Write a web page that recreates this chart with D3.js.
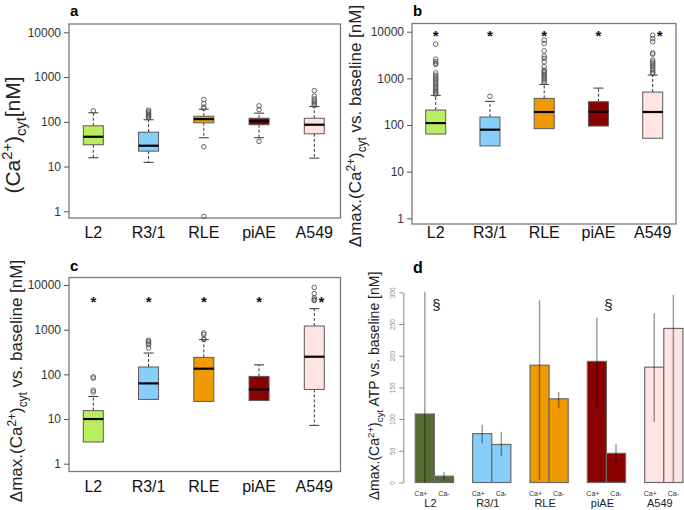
<!DOCTYPE html>
<html><head><meta charset="utf-8">
<script src="https://cdn.jsdelivr.net/npm/d3@7"></script>
<style>
body{margin:0;background:#fff;}
svg{display:block;font-family:"Liberation Sans",Arial,sans-serif;}
</style></head>
<body><svg id="chart" width="684" height="510"></svg>
<script>
// ---------- data ----------
const categories = ["L2","R3/1","RLE","piAE","A549"];
const logTicks = [1,10,100,1000,10000];
const boxColors = ["#BBEE5E","#87CEFA","#EE9A00","#8B0000","#FFE4E1"];
const barColors = ["#556B2F","#87CEFA","#EE9A00","#8B0000","#FFE4E1"];

// panel a: (Ca2+)cyt [nM]
const aQ1 = [30.7, 22.1, 95, 86, 54];
const aMedian = [46.3, 29.2, 115, 103, 86];
const aQ3 = [81.5, 58.6, 133, 120, 120];
const aLow = [15.7, 12.4, 44, 44, 15.4];
const aHigh = [159, 111, 191, 156, 219];
const aOutliers = [[176],[123,130,138,147,157,168,182],[0.77,27.7,200,212,256,314],[36.4,187,227],[231,251,275,298,325,372,499]];

// panel b: delta max vs baseline
const bQ1 = [64, 35.6, 83.4, 95, 52];
const bMedian = [110, 79.4, 190, 193, 190];
const bQ3 = [209, 148, 372, 315, 508];
const bLow = [64, 35.6, 83.4, 95, 52];
const bHigh = [432, 321, 741, 618, 1175];
const bOutliers = [
  [460,490,515,560,610,660,720,780,845,920,1000,1080,1170,1310,1990,2100,2280,2580,5400],
  [411],
  [820,880,960,1030,1110,1200,1320,1400,1500,1780,2270,2670,2980,3870,5600,6580],
  [],
  [1280,1350,1500,1600,1780,1900,2100,2250,2460,3300,3500,6100,7100,8400]];
const bStarValue = 9400;

// panel c
const cQ1 = [3.06, 27.5, 24.8, 26, 46];
const cMedian = [10, 62.8, 134, 46, 248];
const cQ3 = [15.4, 146, 240, 90, 1210];
const cLow = [3.06, 27.5, 24.8, 26, 7.2];
const cHigh = [32, 300, 597, 163, 2950];
const cOutliers = [[40,44,82,88],[390,460,500,540,580],[600,620,780,843],[],[4500,4700,5140,6400,8850]];
const cStarValue = 4800;

// panel d: ATP response, Ca+ / Ca-
const conditions = ["Ca+","Ca-"];
const dCaPlus = [108, 77, 185, 191, 182];
const dCaPlusLow = [0, 62, 4, 119, 96];
const dCaPlusHigh = [301, 91, 288, 260, 267];
const dCaMinus = [10, 60, 132, 46, 243];
const dCaMinusLow = [3, 42, 118, 30, 1];
const dCaMinusHigh = [17, 80, 143, 61, 296];
const dTicks = [0,50,100,150,200,250,300];
const dSection = ["L2","piAE"];
const dSectionValue = 281;

// ---------- drawing ----------
const svg = d3.select("#chart");
const defs = svg.append("defs");
[[0,0],[342,0],[0,255],[342,255]].forEach((o,i)=>{
  defs.append("clipPath").attr("id","clip"+i).append("rect")
    .attr("x",o[0]).attr("y",o[1]).attr("width",342).attr("height",255);
});

function yLabel(g, parts, x, y, size){
  const t = g.append("text").attr("transform",`translate(${x},${y}) rotate(-90)`)
    .attr("text-anchor","middle").attr("font-size",size).attr("fill","#222");
  parts.forEach(p=>{
    const ts = t.append("tspan").text(p.t);
    if(p.sup){ ts.attr("font-size",size*0.7).attr("dy",-size*0.38); }
    if(p.sub){ ts.attr("font-size",size*0.7).attr("dy",size*0.3); }
    if(p.back){ ts.attr("dy",p.back*size); }
  });
}

function boxPanel(o){
  const g = svg.append("g").attr("clip-path",`url(#${o.clip})`);
  const x = d3.scalePoint().domain(categories).range([o.c1, o.c5]);
  const y = d3.scaleLog().domain([1,10000]).range([o.y1, o.y10000]);
  g.append("rect").attr("x",o.fx0).attr("y",o.fy0).attr("width",o.fx1-o.fx0).attr("height",o.fy1-o.fy0)
    .attr("fill","none").attr("stroke","#7a7a7a").attr("stroke-width",1.3);
  const ax = g.append("g").attr("transform",`translate(${o.fx0},0)`)
    .call(d3.axisLeft(y).tickValues(logTicks).tickFormat(d3.format("d")).tickSize(5).tickSizeOuter(0).tickPadding(3));
  ax.select(".domain").remove();
  ax.selectAll(".tick line").attr("stroke","#555");
  ax.selectAll(".tick text").attr("font-size",12).attr("fill","#333").attr("font-family","Liberation Sans, Arial, sans-serif");
  g.selectAll(".xl").data(categories).join("text")
    .attr("x",d=>x(d)).attr("y",o.labelY).attr("text-anchor","middle")
    .attr("font-size",16).attr("fill","#111").text(d=>d);
  const bw = 20;
  categories.forEach((c,i)=>{
    const cx = x(c);
    g.append("line").attr("x1",cx).attr("x2",cx).attr("y1",y(o.q3[i])).attr("y2",y(o.hi[i]))
      .attr("stroke","#333").attr("stroke-dasharray","3,2");
    g.append("line").attr("x1",cx-5).attr("x2",cx+5).attr("y1",y(o.hi[i])).attr("y2",y(o.hi[i])).attr("stroke","#333");
    if(o.lo[i] < o.q1[i]){
      g.append("line").attr("x1",cx).attr("x2",cx).attr("y1",y(o.q1[i])).attr("y2",y(o.lo[i]))
        .attr("stroke","#333").attr("stroke-dasharray","3,2");
      g.append("line").attr("x1",cx-5).attr("x2",cx+5).attr("y1",y(o.lo[i])).attr("y2",y(o.lo[i])).attr("stroke","#333");
    }
    g.append("rect").attr("x",cx-bw/2).attr("width",bw).attr("y",y(o.q3[i])).attr("height",y(o.q1[i])-y(o.q3[i]))
      .attr("fill",boxColors[i]).attr("stroke","#5a5a5a").attr("stroke-width",1);
    g.append("line").attr("x1",cx-bw/2).attr("x2",cx+bw/2).attr("y1",y(o.med[i])).attr("y2",y(o.med[i]))
      .attr("stroke","#000").attr("stroke-width",2.2);
    g.selectAll(null).data(o.out[i]).join("circle").attr("cx",cx).attr("cy",d=>y(d)).attr("r",2.3)
      .attr("fill","none").attr("stroke","#555").attr("stroke-width",0.9);
    if(o.star){
      g.append("text").attr("x",cx + (c==="A549"?7:0)).attr("y",y(o.star)).attr("dy","0.55em")
        .attr("text-anchor","middle").attr("font-size",15).attr("font-weight","bold").attr("fill","#111").text("*");
    }
  });
  g.append("text").attr("x",o.tx).attr("y",o.ty).attr("font-size",15).attr("font-weight","bold").text(o.title);
  yLabel(g, o.ylab, o.lx, o.ly, o.lsize);
}

const labA = [{t:"(Ca"},{t:"2+",sup:true},{t:")",back:0.38},{t:"cyt",sub:true},{t:"[nM]",back:-0.3}];
const labB = [{t:"\u0394max.(Ca"},{t:"2+",sup:true},{t:")",back:0.38},{t:"cyt",sub:true},{t:" vs. baseline [nM]",back:-0.3}];

boxPanel({clip:"clip0",c1:93.3,c5:314.3,y1:211.3,y10000:32.3,fx0:69,fx1:340.5,fy0:24,fy1:218,
  q1:aQ1,med:aMedian,q3:aQ3,lo:aLow,hi:aHigh,out:aOutliers,labelY:238,
  tx:70,ty:16,title:"a",ylab:labA,lx:20,ly:135,lsize:21});
boxPanel({clip:"clip1",c1:435.7,c5:652.7,y1:218.3,y10000:31.7,fx0:412,fx1:676,fy0:23.5,fy1:224,
  q1:bQ1,med:bMedian,q3:bQ3,lo:bLow,hi:bHigh,out:bOutliers,labelY:238,star:bStarValue,
  tx:413,ty:16,title:"b",ylab:labB,lx:361,ly:126,lsize:17});
boxPanel({clip:"clip2",c1:93.3,c5:314.3,y1:463.7,y10000:285,fx0:69,fx1:340.5,fy0:277.5,fy1:471.5,
  q1:cQ1,med:cMedian,q3:cQ3,lo:cLow,hi:cHigh,out:cOutliers,labelY:492,star:cStarValue,
  tx:70,ty:271,title:"c",ylab:labB,lx:22,ly:381,lsize:17});

// panel d
(function(){
  const g = svg.append("g").attr("clip-path","url(#clip3)");
  const x0 = d3.scaleBand().domain(categories).range([415.3, 682.9]).paddingInner(1/3).paddingOuter(0);
  const x1 = d3.scaleBand().domain(conditions).range([0, x0.bandwidth()]);
  const y = d3.scaleLinear().domain([0,300]).range([482.5, 292.3]);
  const ax = g.append("g").attr("transform","translate(403.3,0)")
    .call(d3.axisLeft(y).tickValues(dTicks).tickSize(4).tickSizeOuter(0));
  ax.select(".domain").attr("stroke","#888");
  ax.selectAll(".tick line").attr("stroke","#888");
  ax.selectAll(".tick text").attr("x",0).attr("dy",0).attr("text-anchor","middle")
    .attr("transform","translate(-8,0) rotate(-90)").attr("font-size",6.5).attr("fill","#888")
    .attr("font-family","Liberation Sans, Arial, sans-serif");
  const rows = categories.map((c,i)=>({c,i,vals:[
    {k:"Ca+",v:dCaPlus[i],lo:dCaPlusLow[i],hi:dCaPlusHigh[i]},
    {k:"Ca-",v:dCaMinus[i],lo:dCaMinusLow[i],hi:dCaMinusHigh[i]}]}));
  rows.forEach(r=>{
    const gx = x0(r.c);
    r.vals.forEach(d=>{
      g.append("rect").attr("x",gx+x1(d.k)).attr("width",x1.bandwidth()).attr("y",y(d.v)).attr("height",y(0)-y(d.v))
        .attr("fill",barColors[r.i]).attr("stroke","#6a6a6a").attr("stroke-width",1.2);
    });
    r.vals.forEach(d=>{
      const cx = gx+x1(d.k)+x1.bandwidth()/2;
      g.append("line").attr("x1",cx).attr("x2",cx).attr("y1",y(d.lo)).attr("y2",y(d.hi))
        .attr("stroke","#000").attr("stroke-opacity",0.38).attr("stroke-width",1.5);
      g.append("text").attr("x",cx-(d.k==="Ca+"?4:0)).attr("y",496).attr("text-anchor","middle")
        .attr("font-size",7).attr("fill","#333").text(d.k);
    });
    g.append("text").attr("x",gx+x0.bandwidth()/2-4).attr("y",507).attr("text-anchor","middle")
      .attr("font-size",11).attr("fill","#222").text(r.c);
  });
  g.selectAll(".sec").data(dSection).join("text")
    .attr("x",d=>x0(d)+x0.bandwidth()/2+2).attr("y",y(dSectionValue)).attr("dy","0.35em")
    .attr("text-anchor","middle").attr("font-size",15).attr("fill","#222").text("§");
  g.append("text").attr("x",413).attr("y",273).attr("font-size",16).attr("font-weight","bold").text("d");
  const labD = [{t:"\u0394max.(Ca"},{t:"2+",sup:true},{t:")",back:0.38},{t:"cyt",sub:true},{t:" ATP vs. baseline [nM]",back:-0.3}];
  yLabel(g, labD, 379, 386, 14);
})();
</script></body></html>
